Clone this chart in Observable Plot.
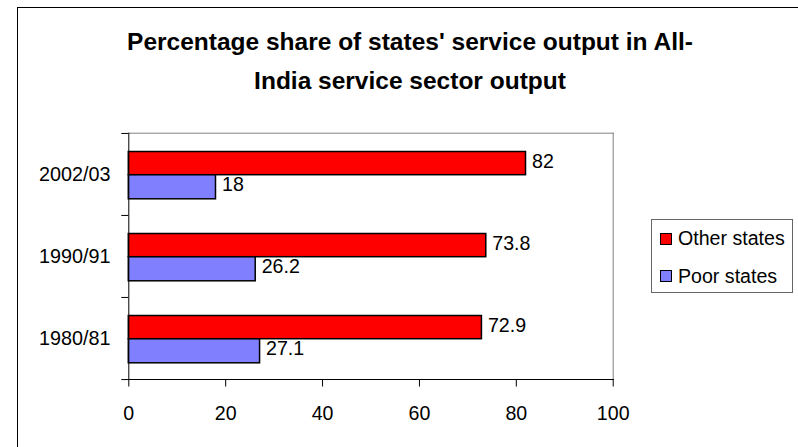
<!DOCTYPE html>
<html>
<head>
<meta charset="utf-8">
<script src="https://cdn.jsdelivr.net/npm/d3@7"></script>
<script src="https://cdn.jsdelivr.net/npm/@observablehq/plot@0.6"></script>
<style>
  body { margin: 0; background: #fff; }
  #wrap { position: relative; width: 798px; height: 447px; overflow: hidden; font-family: "Liberation Sans", Arial, sans-serif; background: #fff; }
  #border { position: absolute; left: 17px; top: 6.5px; width: 900px; height: 700px; border: 1.5px solid #000; box-sizing: border-box; }
  #chart { position: absolute; left: 0; top: 0; }
  #title { position: absolute; left: 110px; top: 22px; width: 600px; text-align: center; font-weight: bold; font-size: 24.5px; line-height: 39px; white-space: nowrap; color: #000; }
  #legend { position: absolute; left: 651px; top: 219px; width: 142px; height: 74px; box-sizing: border-box; border: 1px solid #666; background: #fff; }
  .sw { position: absolute; left: 7.5px; width: 12px; height: 12px; box-sizing: border-box; border: 1.5px solid #000; }
  .lt { position: absolute; left: 26px; font-size: 19.6px; line-height: 19.6px; white-space: nowrap; color: #000; }
</style>
</head>
<body>
<div id="wrap">
  <div id="border"></div>
  <div id="chart"></div>
  <div id="title"></div>
  <div id="legend"></div>
</div>
<script>
const titleLines = ["Percentage share of states' service output in All-", "India service sector output"];
const years = ["2002/03", "1990/91", "1980/81"];
const otherStates = [82, 73.8, 72.9];
const poorStates = [18, 26.2, 27.1];
const xTicks = [0, 20, 40, 60, 80, 100];
const seriesNames = ["Other states", "Poor states"];
const seriesColors = ["#FF0000", "#8080FF"];

const otherData = years.map((y, i) => ({year: y, value: otherStates[i]}));
const poorData = years.map((y, i) => ({year: y, value: poorStates[i]}));

const W = 798, H = 447;
const mL = 128.3, mR = 185.3, mT = 132.7, mB = 68;
const bw = (H - mT - mB) / years.length;
const font = "'Liberation Sans', Arial, sans-serif";

const chart = Plot.plot({
  width: W,
  height: H,
  marginLeft: mL,
  marginRight: mR,
  marginTop: mT,
  marginBottom: mB,
  style: {fontFamily: font, fontSize: "19.6px", background: "transparent", color: "#000", overflow: "visible"},
  x: {domain: [0, 100], axis: null, label: null},
  y: {domain: years, type: "band", padding: 0, axis: null, label: null},
  marks: [
    Plot.frame({anchor: "top", stroke: "#808080"}),
    Plot.frame({anchor: "right", stroke: "#808080"}),
    Plot.axisX({ticks: xTicks, tickSize: 7.5, tickPadding: 19.5, stroke: "#000", fill: "#000", fontSize: 19.6, label: null, tickFormat: d => String(d)}),
    Plot.axisY({tickSize: 0, tickPadding: 18.3, fill: "#000", fontSize: 19.8, label: null}),
    Plot.axisY({tickSize: 7, text: null, label: null, stroke: "#000", dy: -bw / 2}),
    Plot.axisY({ticks: [years[years.length - 1]], tickSize: 7, text: null, label: null, stroke: "#000", dy: bw / 2}),
    Plot.barX(otherData, {y: "year", x: "value", fill: seriesColors[0], stroke: "#000", strokeWidth: 1.5, insetTop: 18.5, insetBottom: 40.3}),
    Plot.barX(poorData, {y: "year", x: "value", fill: seriesColors[1], stroke: "#000", strokeWidth: 1.5, insetTop: 41.8, insetBottom: 16.2}),
    Plot.text(otherData, {y: "year", x: "value", text: d => String(d.value), textAnchor: "start", dx: 6, dy: -13.2, fill: "#000", fontSize: 19.6}),
    Plot.text(poorData, {y: "year", x: "value", text: d => String(d.value), textAnchor: "start", dx: 6, dy: 10.5, fill: "#000", fontSize: 19.6}),
    Plot.ruleX([0], {stroke: "#000"}),
    Plot.frame({anchor: "bottom", stroke: "#000"})
  ]
});
document.getElementById("chart").appendChild(chart);

document.getElementById("title").innerHTML = titleLines.join("<br>");

const legend = document.getElementById("legend");
const swTops = [12.7, 50.3];
const txTops = [9.4, 47.1];
seriesNames.forEach((name, i) => {
  const sw = document.createElement("div");
  sw.className = "sw";
  sw.style.top = swTops[i] + "px";
  sw.style.background = seriesColors[i];
  legend.appendChild(sw);
  const t = document.createElement("div");
  t.className = "lt";
  t.style.top = txTops[i] + "px";
  t.textContent = name;
  legend.appendChild(t);
});
</script>
</body>
</html>
